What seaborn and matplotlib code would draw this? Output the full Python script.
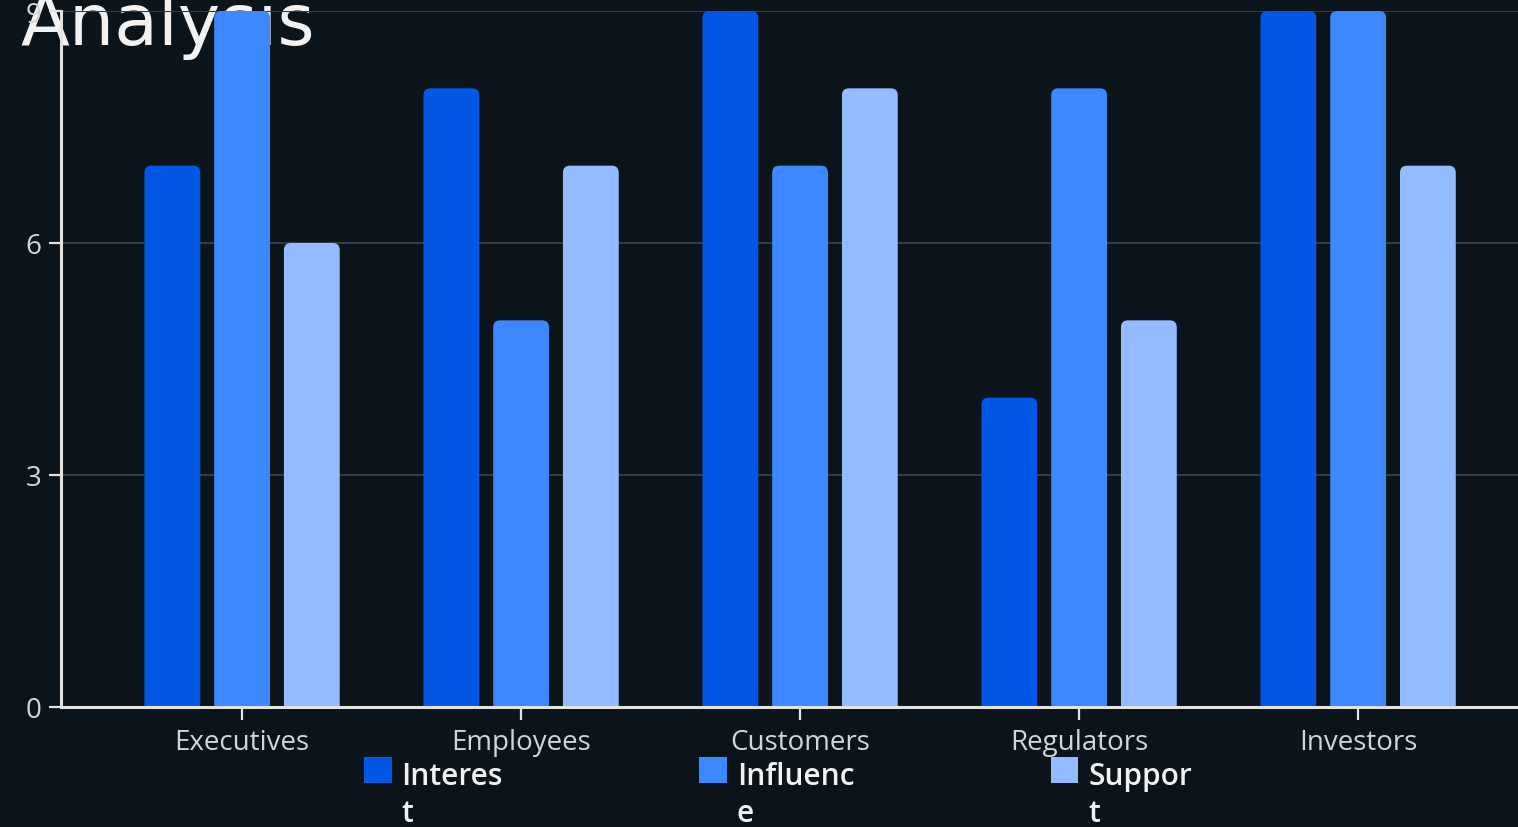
import matplotlib
matplotlib.use("Agg")
import matplotlib.pyplot as plt
import seaborn as sns
import pandas as pd
from matplotlib.patches import FancyBboxPatch, Patch, Rectangle
from matplotlib.legend_handler import HandlerPatch

categories = ["Executives", "Employees", "Customers", "Regulators", "Investors"]
interest = [7, 8, 9, 4, 9]
influence = [9, 5, 7, 8, 9]
support = [6, 7, 8, 5, 7]
series_names = ["Interest", "Influence", "Support"]
legend_labels = ["Interes\nt", "Influenc\ne", "Suppor\nt"]
yticks = [0, 3, 6, 9]
title = "Analysis"

colors = ["#0357E6", "#3D87FF", "#94BAFF"]
bg = "#0B141A"

rows = []
for s, vals in zip(series_names, [interest, influence, support]):
    for c, v in zip(categories, vals):
        rows.append({"Stakeholder": c, "Metric": s, "Score": v})
df = pd.DataFrame(rows)

sns.set_theme(style="dark")
plt.rcParams["font.family"] = ["Open Sans", "DejaVu Sans"]

W, H = 1518, 828
fig = plt.figure(figsize=(W / 100, H / 100), dpi=100, facecolor=bg)
ax = fig.add_axes([61 / W, 1 - 708 / H, 1 - 61 / W, (708 - 12) / H])
ax.set_facecolor("none")

sns.barplot(data=df, x="Stakeholder", y="Score", hue="Metric", order=categories,
            hue_order=series_names, palette=colors, width=0.75, gap=0.2,
            saturation=1, ax=ax, legend=False, zorder=3, linewidth=0)

ax.set_xlim(-0.649, 4.573)
ax.set_ylim(0, 9)
ax.set_yticks(yticks)
ax.set_xlabel("")
ax.set_ylabel("")

# rounded bars
fig.canvas.draw()
px_x = ax.transData.transform((1, 0))[0] - ax.transData.transform((0, 0))[0]
px_y = ax.transData.transform((0, 1))[1] - ax.transData.transform((0, 0))[1]
r_px = 7
rx = r_px / px_x
aspect = (1 / px_y) / (1 / px_x)
old = list(ax.patches)
for p in old:
    x, y = p.get_x(), p.get_y()
    w, h = p.get_width(), p.get_height()
    fc = p.get_facecolor()
    p.remove()
    ext = r_px / px_y * 1.5
    fb = FancyBboxPatch((x, y - ext), w, h + ext,
                        boxstyle=f"round,pad=0,rounding_size={rx}",
                        mutation_aspect=aspect, facecolor=fc, edgecolor="none",
                        zorder=3)
    ax.add_patch(fb)

ax.grid(axis="y", color="#333C42", linewidth=1.5, zorder=0)
ax.grid(axis="x", visible=False)
for side in ["top", "right"]:
    ax.spines[side].set_visible(False)
for side in ["left", "bottom"]:
    ax.spines[side].set_visible(True)
    ax.spines[side].set_color("#E2E2E2")
    ax.spines[side].set_linewidth(2.2)
    ax.spines[side].set_zorder(5)
ax.tick_params(axis="both", colors="#E2E2E2", length=9, width=1.6,
               labelsize=20, labelcolor="#D2D6D9", direction="out")
ax.tick_params(axis="y", pad=5)
ax.tick_params(axis="x", pad=6)
ax.tick_params(left=True, bottom=True)

fig.text(20 / W, 1 - 45 / H, title, fontsize=51.5, color="#F2F2F2",
         va="baseline", ha="left", family="DejaVu Sans", zorder=-1)

shift_pt = 4.0 * 72 / 100


def square(legend, orig_handle, xdescent, ydescent, width, height, fontsize):
    return Rectangle((-xdescent, -ydescent + shift_pt), width, height)


handles = [Patch(facecolor=c, edgecolor="none") for c in colors]
leg = ax.legend(handles, legend_labels, loc="upper left",
                bbox_to_anchor=(364 / W, 1 - 762 / H), bbox_transform=fig.transFigure,
                ncol=3, frameon=False, borderpad=0, borderaxespad=0,
                handlelength=0.93, handleheight=0.97, handletextpad=0.33,
                columnspacing=6.57, prop={"size": 21.5, "weight": "semibold"},
                labelcolor="#F2F2F2",
                handler_map={Patch: HandlerPatch(patch_func=square)})
for t in leg.get_texts():
    t.set_linespacing(1.3)
try:
    for col in leg._legend_handle_box.get_children():
        for entry in col.get_children():
            entry.align = "top"
except Exception:
    pass

fig.savefig("out.png", dpi=100, facecolor=bg)
